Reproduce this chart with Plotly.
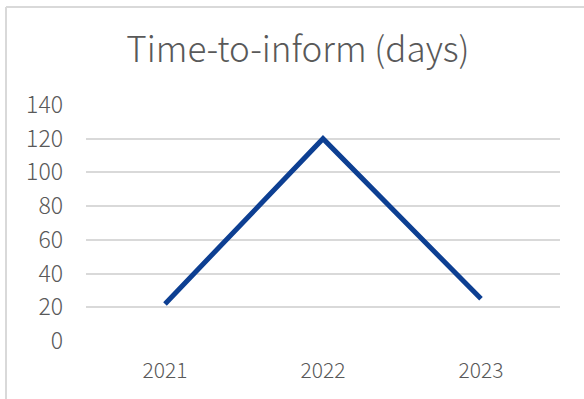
import plotly.graph_objects as go

years = ["2021", "2022", "2023"]
days = [22, 120, 25]
y_ticks = [0, 20, 40, 60, 80, 100, 120, 140]

FONT = "Noto Sans CJK KR"
GRAY = "#595959"

fig = go.Figure()
fig.add_trace(go.Scatter(
    x=years, y=days, mode="lines",
    line=dict(color="#0D3F92", width=5),
    hoverinfo="skip",
))

L, R, T, B = 86, 24, 105, 58
W, H = 584, 399
pw, ph = W - L - R, H - T - B
bx = (6 - L) / pw
by = (H - B - 7) / ph

fig.update_layout(
    width=W, height=H,
    margin=dict(l=L, r=R, t=T, b=B),
    paper_bgcolor="white", plot_bgcolor="white",
    showlegend=False,
    title=dict(text="Time-to-inform (days)", x=(298 - L) / pw, xref="paper",
               xanchor="center", y=1 - 50 / H, yanchor="middle",
               font=dict(family=FONT, size=35, color=GRAY, weight=300)),
    font=dict(family=FONT, color=GRAY, size=21, weight=300),
    xaxis=dict(type="category", range=[-0.5, 2.5], showgrid=False, zeroline=False,
               showline=False, ticks="", ticklabelstandoff=15, fixedrange=True,
               tickfont=dict(size=21)),
    yaxis=dict(range=[0, 140], tickvals=y_ticks, showgrid=True, gridcolor="#D9D9D9",
               gridwidth=1.5, zeroline=False, showline=False, ticks="",
               ticklabelstandoff=22, fixedrange=True, tickfont=dict(size=23)),
    shapes=[
        dict(type="line", xref="paper", yref="paper", x0=bx, x1=1.5, y0=by, y1=by,
             line=dict(color="#D9D9D9", width=2)),
        dict(type="line", xref="paper", yref="paper", x0=bx, x1=bx, y0=by, y1=-1,
             line=dict(color="#D9D9D9", width=2)),
    ],
)
fig.write_html("out.html")
